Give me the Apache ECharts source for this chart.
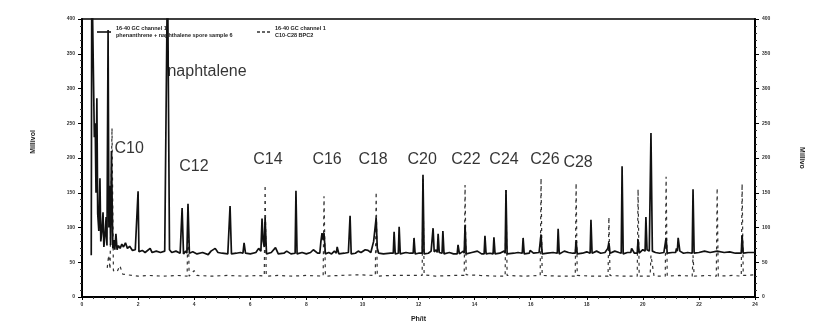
<!DOCTYPE html>
<html>
<head>
<meta charset="utf-8">
<script src="https://cdn.jsdelivr.net/npm/echarts@6/dist/echarts.min.js"></script>
<style>
html,body{margin:0;padding:0;background:#fff;}
#chart{width:824px;height:331px;}
</style>
</head>
<body>
<div id="chart"></div>
<script>
// ---- data (time in minutes, signal in millivolts) ----
var xTicks = [0, 24, 2];          // min, max, interval
var yTicks = [0, 400, 50];

var legendText1 = "16-40 GC channel 1\nphenanthrene + naphthalene spore sample 6";
var legendText2 = "16-40 GC channel 1\nC10-C28 BPC2";

var solidT = [0.33,0.35,0.41,0.44,0.47,0.50,0.53,0.56,0.60,0.64,0.67,0.71,0.75,0.78,0.82,0.86,0.89,0.93,0.96,0.99,1.02,1.05,1.10,1.14,1.17,1.21,1.25,1.30,1.36,1.42,1.48,1.55,1.62,1.70,1.80,1.90,1.97,2.00,2.03,2.15,2.25,2.43,2.50,2.65,2.80,2.95,3.02,3.05,3.09,3.12,3.20,3.35,3.50,3.53,3.57,3.62,3.70,3.74,3.78,3.83,3.95,4.10,4.30,4.50,4.60,4.75,4.85,5.00,5.20,5.24,5.28,5.33,5.50,5.65,5.74,5.78,5.83,6.00,6.20,6.30,6.38,6.42,6.46,6.50,6.53,6.58,6.75,6.90,7.00,7.20,7.30,7.45,7.60,7.63,7.67,7.85,8.00,8.15,8.25,8.40,8.48,8.52,8.56,8.60,8.63,8.68,8.80,8.90,9.00,9.07,9.10,9.16,9.35,9.50,9.53,9.56,9.60,9.75,9.85,9.95,10.10,10.20,10.30,10.37,10.40,10.49,10.53,10.58,10.75,11.00,11.10,11.13,11.17,11.28,11.31,11.35,11.55,11.70,11.81,11.84,11.88,12.00,12.13,12.16,12.20,12.35,12.45,12.49,12.52,12.56,12.63,12.67,12.70,12.74,12.84,12.87,12.91,13.10,13.25,13.38,13.41,13.46,13.60,13.63,13.66,13.70,13.90,14.10,14.25,14.34,14.37,14.41,14.55,14.66,14.69,14.73,14.90,15.05,15.09,15.12,15.16,15.40,15.55,15.70,15.73,15.77,15.95,15.98,16.10,16.30,16.34,16.37,16.41,16.60,16.80,16.95,16.98,17.02,17.20,17.35,17.50,17.59,17.62,17.66,17.85,18.00,18.12,18.15,18.19,18.35,18.50,18.65,18.72,18.75,18.79,18.83,19.00,19.15,19.23,19.26,19.30,19.45,19.57,19.60,19.70,19.80,19.83,19.87,20.00,20.08,20.11,20.15,20.23,20.29,20.34,20.45,20.60,20.75,20.80,20.83,20.87,21.05,21.17,21.20,21.23,21.26,21.32,21.45,21.60,21.76,21.79,21.83,22.00,22.20,22.40,22.65,22.90,23.10,23.30,23.51,23.54,23.58,23.75,24.00];
var solidV = [60,480,480,230,250,150,286,120,95,171,80,95,122,72,88,115,74,384,100,160,75,210,70,82,68,91,68,74,70,76,72,78,70,73,67,68,66,152,65,67,64,70,64,66,64,66,65,480,480,68,64,66,63,63,128,62,66,63,134,63,65,62,64,61,66,70,64,63,62,62,131,62,63,64,63,78,63,62,64,70,66,113,80,72,114,62,64,71,62,63,66,62,63,153,62,64,62,64,68,63,63,80,92,82,92,62,64,62,66,63,72,62,63,64,63,117,62,63,66,64,68,67,64,64,80,114,70,63,62,63,63,94,62,63,101,62,64,63,63,85,62,63,63,176,62,63,66,64,99,65,68,64,91,64,63,95,62,64,62,62,75,62,66,63,104,62,64,66,62,62,88,62,63,62,86,62,63,66,63,154,62,63,64,63,85,62,63,67,63,64,63,90,62,63,64,63,98,62,66,64,63,63,82,62,63,65,63,111,63,66,63,64,64,70,78,63,66,64,63,188,62,64,64,70,63,63,83,63,68,66,115,68,66,236,66,64,63,64,63,85,63,64,64,70,66,85,66,63,64,63,155,63,64,66,64,66,64,65,63,63,89,63,64,64];

var dashT = [0.90,0.95,1.00,1.04,1.07,1.12,1.25,1.35,1.45,1.60,2.00,2.40,2.90,3.40,3.75,3.78,3.82,4.00,4.10,4.60,5.20,5.80,6.30,6.50,6.53,6.57,7.00,7.50,8.00,8.60,8.63,8.68,9.20,9.80,10.46,10.49,10.53,11.00,11.60,12.13,12.16,12.20,12.60,13.20,13.63,13.66,13.70,14.20,14.80,15.09,15.12,15.16,15.80,16.34,16.37,16.41,17.00,17.59,17.62,17.66,18.20,18.76,18.79,18.83,19.30,19.80,19.83,19.87,20.26,20.29,20.40,20.80,20.83,20.87,21.30,21.76,21.79,21.83,22.30,22.62,22.65,22.69,23.20,23.51,23.54,23.58,24.00];
var dashV = [42,60,40,40,243,38,36,45,33,32,30,31,30,31,30,130,30,38,31,30,31,30,31,30,161,30,31,30,31,30,145,30,31,32,31,151,30,31,31,31,170,32,30,31,31,161,32,31,30,30,154,31,30,31,171,31,30,30,164,31,30,30,115,31,30,30,155,30,30,60,30,30,173,30,31,30,60,30,31,30,157,30,31,30,163,31,32];

var peakNames = ["C10","naphtalene","C12","C14","C16","C18","C20","C22","C24","C26","C28"];
var peakNameT = [1.68,4.46,3.99,6.63,8.74,10.38,12.13,13.69,15.05,16.51,17.69];
var peakNameV = [214,324,187,197,197,197,197,197,197,197,193];

// ---- build chart ----
function pairs(t, v){ var o=[]; for(var i=0;i<t.length;i++) o.push([t[i], v[i]]); return o; }
var labelData = [];
for (var i=0;i<peakNames.length;i++) labelData.push([peakNameT[i], peakNameV[i], peakNames[i]]);

var tickFont = {fontSize:5, color:'#333', fontWeight:'bold', fontFamily:'Liberation Sans'};
var legendFont = {fontSize:5.5, lineHeight:7, fontWeight:'bold', color:'#222', fontFamily:'Liberation Sans'};
var chart = echarts.init(document.getElementById('chart'), null, {renderer:'canvas'});
var yCommon = {
  type:'value', min:yTicks[0], max:yTicks[1], interval:yTicks[2],
  axisLine:{show:true, lineStyle:{color:'#000', width:2}},
  axisTick:{show:true, length:4, lineStyle:{color:'#000', width:1}},
  minorTick:{show:true, splitNumber:5, length:2, lineStyle:{color:'#333'}},
  axisLabel:Object.assign({margin:7}, tickFont),
  splitLine:{show:false},
  nameLocation:'middle',
  nameTextStyle:{fontSize:7, color:'#222', fontWeight:'bold', fontFamily:'Liberation Sans'}
};
chart.setOption({
  animation:false,
  backgroundColor:'#fff',
  grid:{left:82, right:69, top:19, bottom:34, show:true, borderColor:'#000', borderWidth:1.5},
  legend:[
    {data:['ch1'], left:92, top:20, orient:'vertical', itemWidth:14, itemHeight:1.6,
     icon:'path://M0,0h14v1.6h-14z', itemStyle:{color:'#111'},
     formatter:function(){return legendText1;}, textStyle:legendFont},
    {data:['ch2'], left:252, top:20, orient:'vertical', itemWidth:13, itemHeight:1.4,
     icon:'path://M0,0h3v1.4h-3z M5,0h3v1.4h-3z M10,0h3v1.4h-3z', itemStyle:{color:'#333'},
     formatter:function(){return legendText2;}, textStyle:legendFont}
  ],
  xAxis:{
    type:'value', min:xTicks[0], max:xTicks[1], interval:xTicks[2],
    name:'Ph/it', nameLocation:'middle', nameGap:19,
    nameTextStyle:{fontSize:7, color:'#222', fontWeight:'bold', fontFamily:'Liberation Sans'},
    axisLine:{lineStyle:{color:'#000', width:2}},
    axisTick:{show:true, length:3, lineStyle:{color:'#000'}},
    minorTick:{show:true, splitNumber:5, length:2, lineStyle:{color:'#333'}},
    axisLabel:Object.assign({margin:5}, tickFont),
    splitLine:{show:false}
  },
  yAxis:[
    Object.assign({}, yCommon, {position:'left', name:'Millivol', nameGap:45, nameRotate:90,
      nameTextStyle:Object.assign({}, yCommon.nameTextStyle, {padding:[0,0,0,32]})}),
    Object.assign({}, yCommon, {position:'right', name:'Millivo', nameGap:43, nameRotate:-90})
  ],
  series:[
    {name:'ch2', type:'line', data:pairs(dashT, dashV), showSymbol:false, symbol:'none',
     clip:true, lineStyle:{color:'#333', width:1.2, type:[3,4]}, itemStyle:{color:'#333'}, z:2},
    {name:'ch1', type:'line', data:pairs(solidT, solidV), showSymbol:false, symbol:'none',
     clip:true, lineStyle:{color:'#111', width:1.7}, itemStyle:{color:'#111'}, z:3},
    {name:'labels', type:'scatter', data:labelData, symbolSize:0, silent:true, z:5,
     label:{show:true, position:'inside', formatter:function(p){return p.data[2];},
            fontSize:16, color:'#000', fontFamily:'Liberation Sans'}}
  ]
});
</script>
</body>
</html>
